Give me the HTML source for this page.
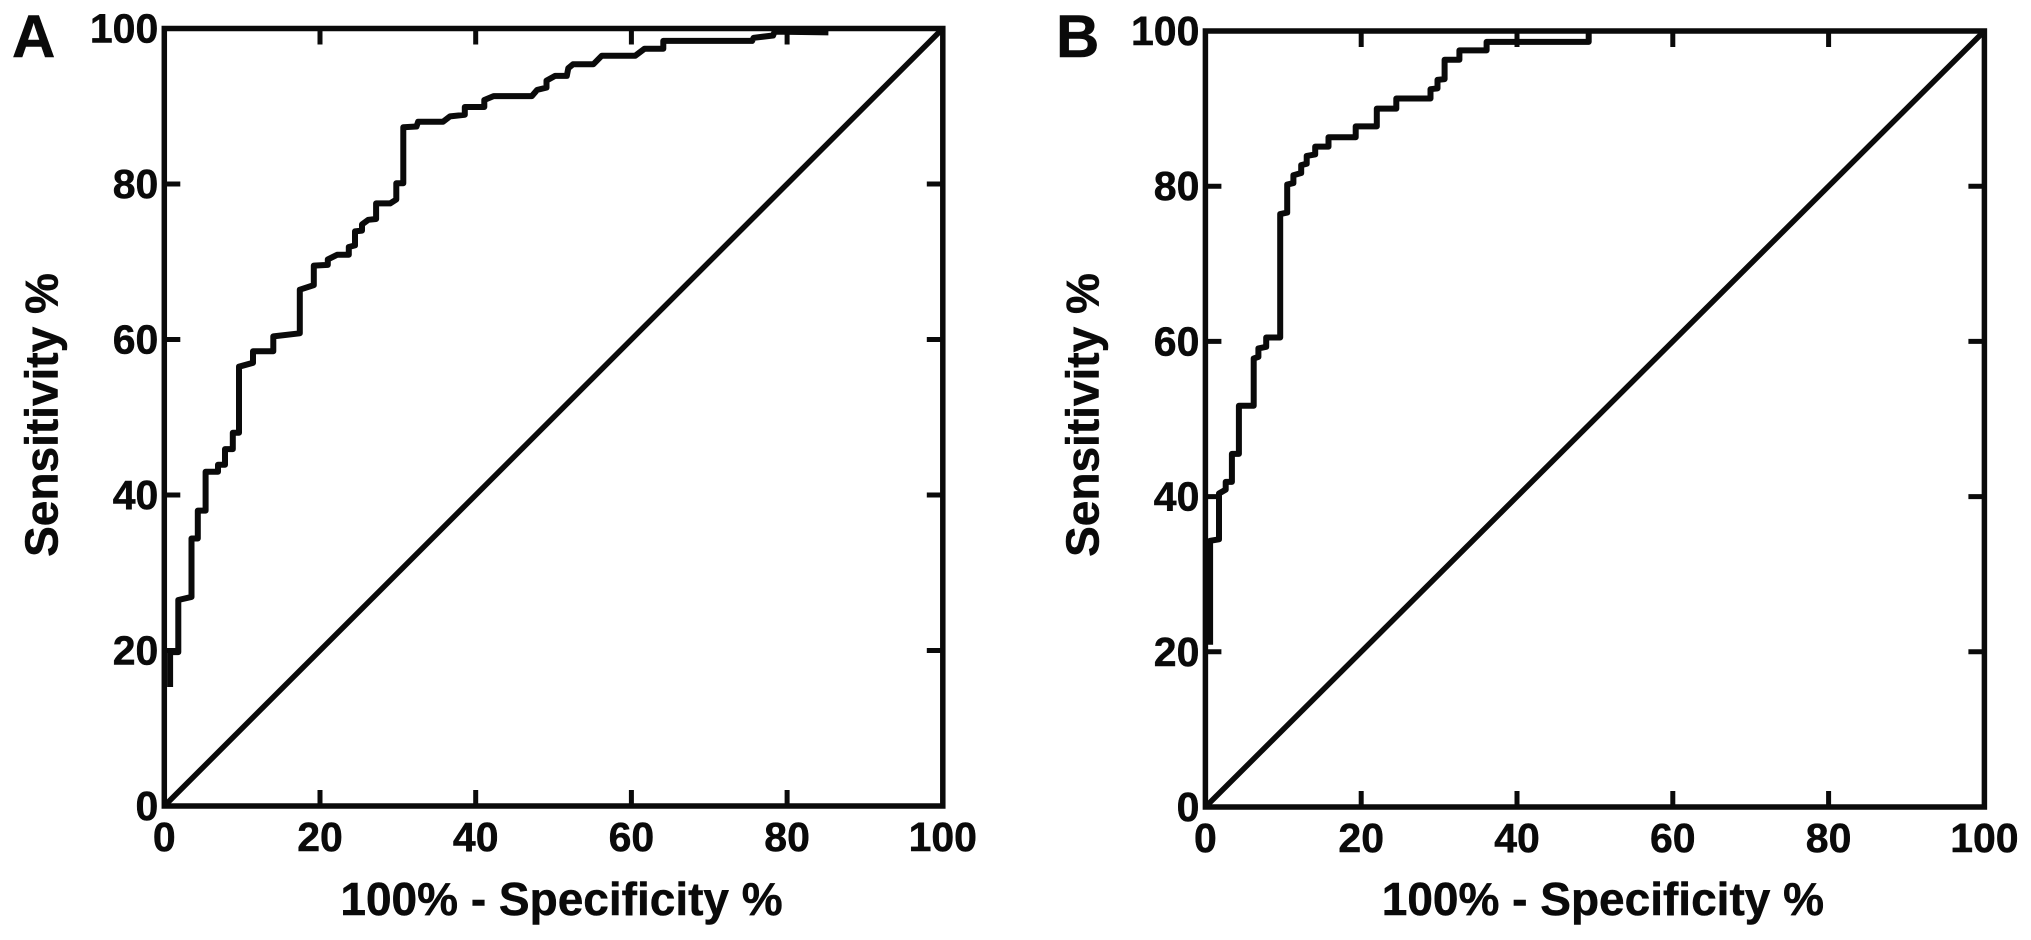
<!DOCTYPE html>
<html lang="en">
<head>
<meta charset="utf-8">
<title>ROC curves, panels A and B</title>
<style>
html,body{margin:0;padding:0;background:#fff;}
svg{display:block;}
text{font-family:"Liberation Sans",Arial,sans-serif;font-weight:bold;fill:#0a0a0a;stroke:#0a0a0a;stroke-width:0.5px;}
</style>
</head>
<body>
<svg id="chart" width="2031" height="940" viewBox="0 0 2031 940" xmlns="http://www.w3.org/2000/svg"></svg>
<script>
const tickValues = [0, 20, 40, 60, 80, 100];
const tickLabels = ['0', '20', '40', '60', '80', '100'];
const xAxisTitle = '100% - Specificity %';
const yAxisTitle = 'Sensitivity %';
const diagonalX = [0, 100];
const diagonalY = [0, 100];

const panelAFpr = [0.75,0.75,1.8,1.8,3.5,3.5,4.3,4.3,5.3,5.3,6.9,6.9,7.8,7.8,8.8,8.8,9.6,9.6,11.4,11.4,14,14,17.4,17.4,19.2,19.2,21,21,22.2,23.7,23.7,24.5,24.5,25.4,25.4,26.2,27.2,27.2,29,29.8,29.8,30.7,30.7,32.4,32.6,35.8,36.7,38.6,38.6,41.1,41.1,42.3,47.2,47.9,49.1,49.1,50.2,51.7,51.9,52.5,55.1,56.2,60.5,61.7,64.1,64.1,75.5,75.7,78.2,78.4,85.3];
const panelASens = [15.3,19.8,19.8,26.5,26.9,34.4,34.4,38,38,43,43,43.9,43.9,45.9,45.9,48,48,56.5,57,58.5,58.5,60.4,60.8,66.4,67,69.5,69.6,70.3,70.9,70.9,71.9,72.1,73.9,74,74.8,75.4,75.5,77.5,77.5,78,80.1,80.1,87.3,87.4,88,88,88.7,88.9,89.9,89.9,90.8,91.3,91.3,92.1,92.4,93.3,93.9,93.9,94.9,95.4,95.4,96.5,96.5,97.4,97.4,98.4,98.4,98.8,99.1,99.6,99.5];

const panelBFpr = [0.6,0.6,1.75,1.75,2.6,2.6,3.4,3.4,4.3,4.3,6.2,6.2,6.8,6.8,7.8,7.8,9.6,9.6,10.5,10.5,11.3,11.3,12.3,12.3,13,13,14.1,14.1,15.8,15.8,19.3,19.3,22,22,24.5,24.5,28.9,28.9,29.8,29.8,30.7,30.7,32.6,32.6,36.1,36.1,49.2,49.2];
const panelBSens = [20.9,34.3,34.5,40.4,40.9,41.9,41.9,45.5,45.5,51.7,51.7,57.8,58,59.1,59.3,60.5,60.5,76.4,76.6,80.2,80.4,81.4,81.7,82.7,82.9,83.9,84.1,85.1,85.1,86.3,86.3,87.7,87.7,90,90,91.3,91.3,92.5,92.6,93.7,93.8,96.3,96.3,97.5,97.5,98.6,98.6,99.9];

const svg = document.getElementById('chart');
const NS = 'http://www.w3.org/2000/svg';

function make(tag, attrs, parent) {
  const el = document.createElementNS(NS, tag);
  for (const k in attrs) el.setAttribute(k, attrs[k]);
  parent.appendChild(el);
  return el;
}

function drawPanel(p) {
  const sx = v => p.left + (p.right - p.left) * v / 100;
  const sy = v => p.bottom - (p.bottom - p.top) * v / 100;

  const g = make('g', {}, svg);
  
  

  const letter = make('text', {x: p.letterX, y: 57, 'font-size': 60}, g);
  letter.textContent = p.id.toUpperCase();
  
  

  const frame = make('rect', {x: sx(0), y: sy(100), width: sx(100) - sx(0), height: sy(0) - sy(100), fill: 'none', stroke: '#0a0a0a', 'stroke-width': 5.5}, g);
  
  

  tickValues.forEach((v, i) => {
    if (v > 0 && v < 100) {
      const tb = make('line', {x1: sx(v), x2: sx(v), y1: sy(0), y2: sy(0) - 16, stroke: '#0a0a0a', 'stroke-width': 5}, g);
      
      
      const tt = make('line', {x1: sx(v), x2: sx(v), y1: sy(100), y2: sy(100) + 16, stroke: '#0a0a0a', 'stroke-width': 5}, g);
      
      
      const tl = make('line', {x1: sx(0), x2: sx(0) + 16, y1: sy(v), y2: sy(v), stroke: '#0a0a0a', 'stroke-width': 5}, g);
      
      
      const tr = make('line', {x1: sx(100), x2: sx(100) - 16, y1: sy(v), y2: sy(v), stroke: '#0a0a0a', 'stroke-width': 5}, g);
      
      
    }
    const xl = make('text', {x: sx(v), y: sy(0) + 45, 'font-size': 41, 'text-anchor': 'middle'}, g);
    xl.textContent = tickLabels[i];
    
    
    const yl = make('text', {x: sx(0) - 6, y: sy(v) + 14, 'font-size': 41, 'text-anchor': 'end'}, g);
    yl.textContent = tickLabels[i];
    
    
  });

  const diag = make('polyline', {points: diagonalX.map((x, i) => sx(x) + ',' + sy(diagonalY[i])).join(' '), fill: 'none', stroke: '#0a0a0a', 'stroke-width': 5.5}, g);
  
  

  const curve = make('polyline', {points: p.xs.map((x, i) => sx(x).toFixed(1) + ',' + sy(p.ys[i]).toFixed(1)).join(' '), fill: 'none', stroke: '#0a0a0a', 'stroke-width': 6, 'stroke-linejoin': 'round'}, g);
  
  

  const xt = make('text', {x: (sx(0) + sx(100)) / 2 + 8, y: 915, 'font-size': 46, 'text-anchor': 'middle'}, g);
  xt.textContent = xAxisTitle;
  
  

  const ytX = p.left - 107;
  const yt = make('text', {x: ytX, y: 415, 'font-size': 46, 'text-anchor': 'middle', transform: 'rotate(-90 ' + ytX + ' 415)'}, g);
  yt.textContent = yAxisTitle;
  
  
}

drawPanel({id: 'a', left: 164.3, right: 942.8, top: 28.5, bottom: 806, letterX: 12, xs: panelAFpr, ys: panelASens});
drawPanel({id: 'b', left: 1205.4, right: 1984.4, top: 31, bottom: 807, letterX: 1056, xs: panelBFpr, ys: panelBSens});
</script>
</body>
</html>
